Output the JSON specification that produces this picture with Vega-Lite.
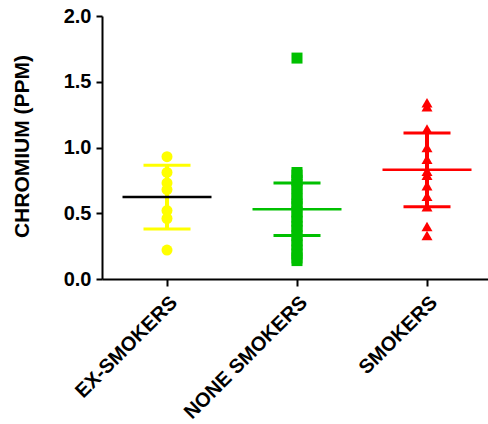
{
  "$schema": "https://vega.github.io/schema/vega-lite/v6.json",
  "autosize": "none",
  "width": 390,
  "height": 263,
  "padding": {"left": 102, "top": 16, "right": 0, "bottom": 145},
  "background": "white",
  "config": {
    "view": {"stroke": null},
    "font": "Liberation Sans",
    "axis": {"grid": false, "domainColor": "black", "domainWidth": 2, "tickColor": "black", "tickWidth": 2, "tickSize": 6, "labelColor": "black", "labelFont": "Liberation Sans", "labelFontWeight": "bold", "labelFontSize": 20, "titleFont": "Liberation Sans", "titleFontWeight": "bold", "titleFontSize": 21, "titleColor": "black"}
  },
  "datasets": {
    "points": [
      {"group": "EX-SMOKERS", "value": 0.93},
      {"group": "EX-SMOKERS", "value": 0.81},
      {"group": "EX-SMOKERS", "value": 0.73},
      {"group": "EX-SMOKERS", "value": 0.68},
      {"group": "EX-SMOKERS", "value": 0.52},
      {"group": "EX-SMOKERS", "value": 0.46},
      {"group": "EX-SMOKERS", "value": 0.22},
      {"group": "NONE SMOKERS", "value": 1.68},
      {"group": "NONE SMOKERS", "value": 0.81},
      {"group": "NONE SMOKERS", "value": 0.79},
      {"group": "NONE SMOKERS", "value": 0.75},
      {"group": "NONE SMOKERS", "value": 0.72},
      {"group": "NONE SMOKERS", "value": 0.69},
      {"group": "NONE SMOKERS", "value": 0.64},
      {"group": "NONE SMOKERS", "value": 0.61},
      {"group": "NONE SMOKERS", "value": 0.57},
      {"group": "NONE SMOKERS", "value": 0.55},
      {"group": "NONE SMOKERS", "value": 0.51},
      {"group": "NONE SMOKERS", "value": 0.47},
      {"group": "NONE SMOKERS", "value": 0.44},
      {"group": "NONE SMOKERS", "value": 0.40},
      {"group": "NONE SMOKERS", "value": 0.37},
      {"group": "NONE SMOKERS", "value": 0.33},
      {"group": "NONE SMOKERS", "value": 0.29},
      {"group": "NONE SMOKERS", "value": 0.26},
      {"group": "NONE SMOKERS", "value": 0.22},
      {"group": "NONE SMOKERS", "value": 0.19},
      {"group": "NONE SMOKERS", "value": 0.16},
      {"group": "NONE SMOKERS", "value": 0.14},
      {"group": "SMOKERS", "value": 1.34},
      {"group": "SMOKERS", "value": 1.31},
      {"group": "SMOKERS", "value": 1.14},
      {"group": "SMOKERS", "value": 1.00},
      {"group": "SMOKERS", "value": 0.91},
      {"group": "SMOKERS", "value": 0.82},
      {"group": "SMOKERS", "value": 0.79},
      {"group": "SMOKERS", "value": 0.71},
      {"group": "SMOKERS", "value": 0.63},
      {"group": "SMOKERS", "value": 0.55},
      {"group": "SMOKERS", "value": 0.40},
      {"group": "SMOKERS", "value": 0.33}
    ],
    "summary": [
      {"group": "EX-SMOKERS", "mean": 0.624, "lo": 0.38, "hi": 0.865},
      {"group": "NONE SMOKERS", "mean": 0.53, "lo": 0.33, "hi": 0.73},
      {"group": "SMOKERS", "mean": 0.83, "lo": 0.55, "hi": 1.11}
    ]
  },
  "layer": [
    {
      "data": {"name": "points"},
      "mark": {"type": "point", "filled": true, "opacity": 1, "size": 121},
      "encoding": {
        "x": {"field": "group", "type": "nominal", "scale": {"type": "band", "paddingInner": 0, "paddingOuter": 0, "domain": ["EX-SMOKERS", "NONE SMOKERS", "SMOKERS"]}, "axis": {"title": null, "labelAngle": -45, "labelAlign": "right", "labelBaseline": "top", "labelPadding": 6, "labelFontSize": 20, "tickSize": 7}},
        "y": {"field": "value", "type": "quantitative", "scale": {"domain": [0, 2], "nice": false}, "axis": {"title": "CHROMIUM (PPM)", "values": [0, 0.5, 1, 1.5, 2], "format": ".1f", "labelPadding": 5, "titleX": -80, "titleY": 130, "titleAngle": -90, "titleAlign": "center", "titleBaseline": "middle"}},
        "color": {"field": "group", "type": "nominal", "scale": {"domain": ["EX-SMOKERS", "NONE SMOKERS", "SMOKERS"], "range": ["#FFFF00", "#00C000", "#FF0000"]}, "legend": null},
        "shape": {"field": "group", "type": "nominal", "scale": {"domain": ["EX-SMOKERS", "NONE SMOKERS", "SMOKERS"], "range": ["circle", "square", "triangle-up"]}, "legend": null}
      }
    },
    {
      "data": {"name": "summary"},
      "mark": {"type": "rule", "strokeWidth": 4},
      "encoding": {
        "x": {"field": "group", "type": "nominal"},
        "y": {"field": "lo", "type": "quantitative"},
        "y2": {"field": "hi"},
        "color": {"field": "group", "type": "nominal", "legend": null}
      }
    },
    {
      "data": {"name": "summary"},
      "mark": {"type": "tick", "size": 47, "thickness": 3, "opacity": 1},
      "encoding": {
        "x": {"field": "group", "type": "nominal"},
        "y": {"field": "lo", "type": "quantitative"},
        "color": {"field": "group", "type": "nominal", "legend": null}
      }
    },
    {
      "data": {"name": "summary"},
      "mark": {"type": "tick", "size": 47, "thickness": 3, "opacity": 1},
      "encoding": {
        "x": {"field": "group", "type": "nominal"},
        "y": {"field": "hi", "type": "quantitative"},
        "color": {"field": "group", "type": "nominal", "legend": null}
      }
    },
    {
      "data": {"name": "summary"},
      "mark": {"type": "tick", "size": 89, "thickness": 2.5, "opacity": 1},
      "encoding": {
        "x": {"field": "group", "type": "nominal"},
        "y": {"field": "mean", "type": "quantitative"},
        "color": {"condition": {"test": "datum.group === 'EX-SMOKERS'", "value": "black"}, "field": "group", "type": "nominal", "legend": null}
      }
    }
  ]
}
